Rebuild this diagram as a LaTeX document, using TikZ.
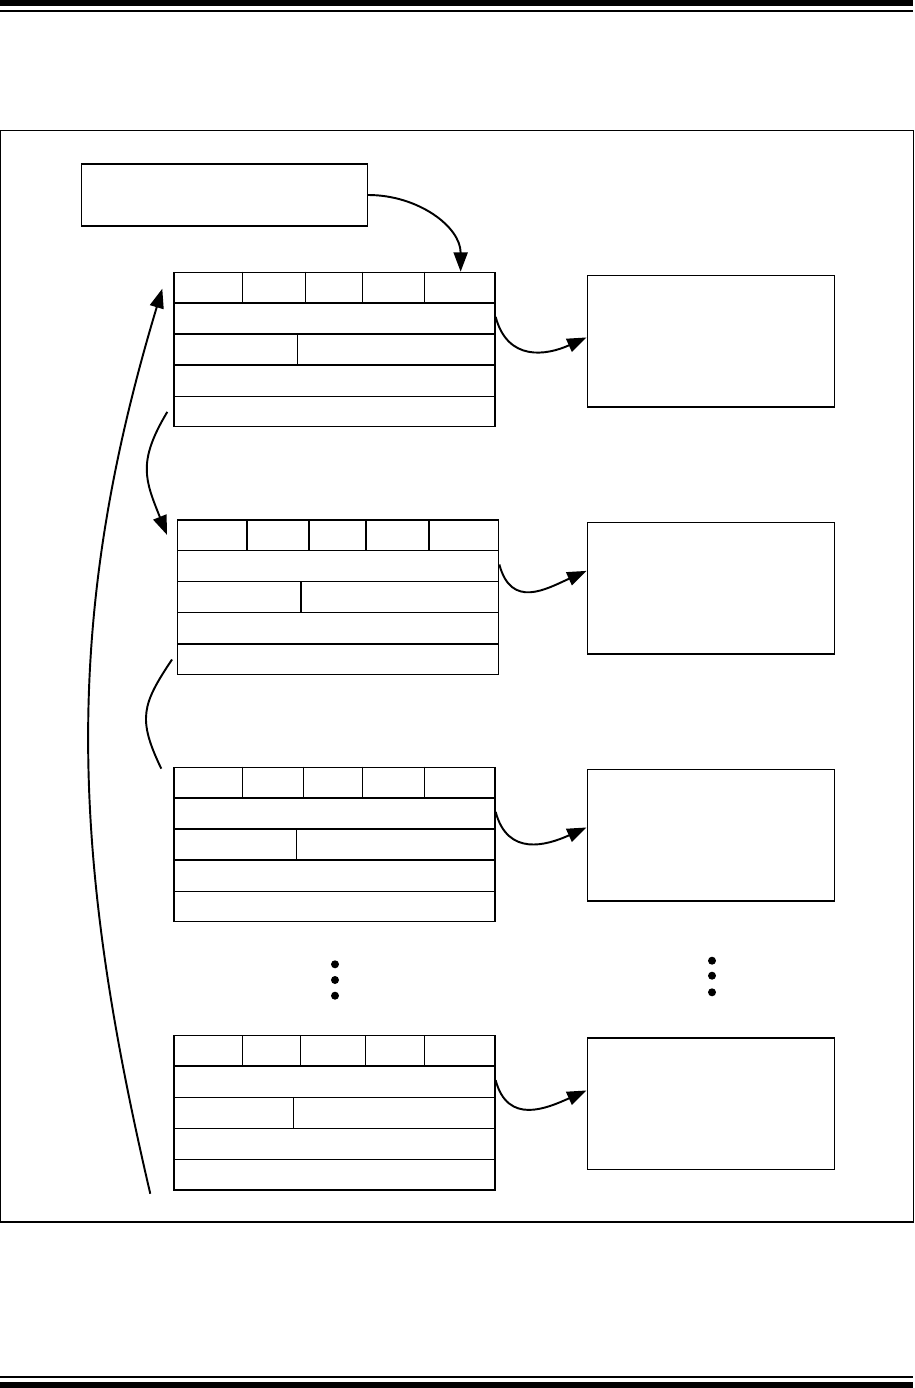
\documentclass[tikz,border=0pt]{standalone}
\usepackage{tikz}
\usetikzlibrary{arrows.meta,positioning,calc}

\tikzset{
  recbox/.style={draw, rectangle, inner sep=0pt, line width=0.8pt, minimum width=6.42cm, minimum height=3.088cm},
  databox/.style={draw, rectangle, inner sep=0pt, line width=0.8pt, minimum width=4.95cm, minimum height=2.63cm},
  headbox/.style={draw, rectangle, inner sep=0pt, line width=0.8pt, minimum width=5.72cm, minimum height=1.24cm},
  link/.style={line width=1.1pt, -{Triangle[length=11pt,width=8pt]}},
  plainlink/.style={line width=1.1pt},
  dot/.style={circle, fill=black, inner sep=0pt, minimum size=0.16cm}
}

\begin{document}
\begin{tikzpicture}[x=0.02cm, y=-0.02cm, line width=0.8pt]
    \useasboundingbox (0,0) rectangle (915,1388);

    % page rules and frame
    \fill (0,0) rectangle (913,5.7);
    \fill (0,9.7) rectangle (913,12);
    \fill (0,1375.7) rectangle (913,1378);
    \fill (0,1382) rectangle (913,1388);
    \draw (0.6,130.5) rectangle (913.4,1222);

    % head pointer
    \node[headbox, anchor=north west] (head) at (80.7,163.3) {};

    % records
    \foreach \n/\x/\y/\pa/\pb/\pc/\pd/\pe in {1/173.3/271.7/69/132/189/251.4/124,
        2/177/519.3/70/132/189/252/124,
        3/173.3/766.7/69/130/189/251/123,
        4/173.3/1035/69.4/127.4/192.4/251/120.4} {
        \node[recbox, anchor=north west] (r\n) at (\x,\y) {};
        \foreach \k in {1,...,4}
            \draw ($(r\n.north west)!\k/5!(r\n.south west)$) -- ($(r\n.north east)!\k/5!(r\n.south east)$);
        \foreach \col in {\pa,\pb,\pc,\pd}
            \draw (\x+\col,\y) -- ++(0,30.88);
        \draw (\x+\pe,\y+61.76) -- ++(0,30.88);
    }

    % data blocks
    \node[databox, anchor=north west] (d1) at (586.5,275) {};
    \node[databox, anchor=north west] (d2) at (586.5,521.7) {};
    \node[databox, anchor=north west] (d3) at (586.5,769) {};
    \node[databox, anchor=north west] (d4) at (586.5,1037.3) {};

    % continuation dots
    \foreach \i/\yy in {1/964.3,2/980,3/995.7}
        \node[dot] (ldot\i) at (335,\yy) {};
    \foreach \i/\yy in {1/960.7,2/975.7,3/992.3}
        \node[dot] (rdot\i) at (712,\yy) {};

    % connectors
    \draw[link] (head.east) .. controls +(50,0) and +(0,-45) .. ($(r1.north east)+(-35,0)$);
    \foreach \n/\f in {1/0.47,2/0.37,3/0.44,4/0.40}
        \draw[link] ($(r\n.north east)!0.29!(r\n.south east)$) .. controls +(12,45) and +(-40,18) .. ($(d\n.north west)!\f!(d\n.south west)$);
    \draw[link] ($(r1.north west)!0.9!(r1.south west)+(-6,0)$) .. controls +(-30,50) and +(-22,-55) .. ($(r2.north west)!0.1!(r2.south west)+(-10,0)$);
    \draw[plainlink] ($(r2.north west)!0.9!(r2.south west)+(-5,0)$) .. controls +(-30,45) and +(-24,-50) .. ($(r3.north west)+(-12,2)$);
    \draw[link] ($(r4.south west)+(-23,3)$) .. controls +(-80,-342) and +(-100,332) .. ($(r1.north west)+(-11,17)$);
\end{tikzpicture}
\end{document}
